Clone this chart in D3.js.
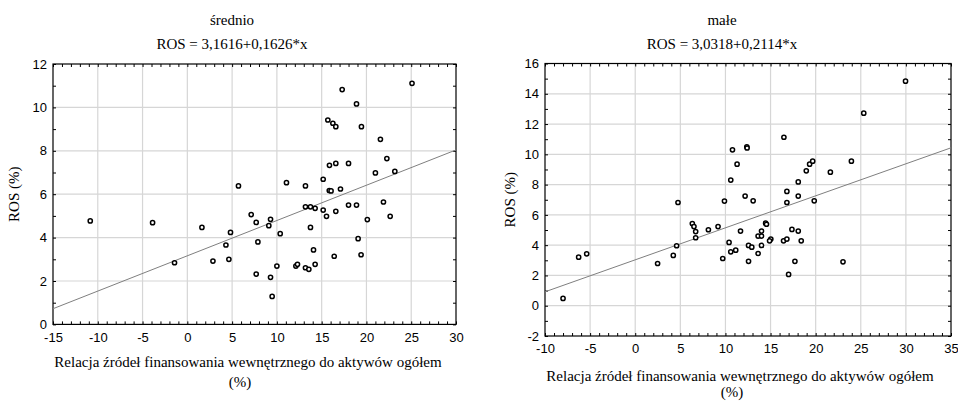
<!DOCTYPE html>
<html>
<head>
<meta charset="utf-8">
<script src="https://cdn.jsdelivr.net/npm/d3@7"></script>
<style>
  body { margin: 0; background: #fff; }
  svg { display: block; }
  .num text { font-family: "Liberation Sans", Arial, sans-serif; font-size: 13px; fill: #000; }
  text.serif { font-family: "Liberation Serif", "Times New Roman", Tinos, "DejaVu Serif", serif; font-size: 15px; fill: #000; }
</style>
</head>
<body>
<svg id="vis" width="958" height="402"></svg>
<script>
// left panel: "średnio"
const sredX = [-10.84, -3.88, -1.43, 1.63, 2.86, 4.31, 4.82, 4.64, 5.71, 7.13, 7.69, 7.88, 7.69, 9.1, 9.29,
  10.37, 10.0, 9.29, 9.47, 11.07, 12.12, 12.3, 13.19, 13.57, 14.27, 14.09, 13.75, 13.19, 13.75, 14.27,
  15.17, 15.54, 16.58, 18.0, 18.89, 21.9, 22.65, 20.1, 19.07, 19.4, 16.4, 13.19, 15.17, 15.85, 16.05,
  17.1, 15.87, 16.58, 18.0, 21.0, 23.17, 22.28, 21.56, 15.69, 16.25, 16.58, 19.44, 18.89, 17.29, 25.09];
const sredY = [4.77, 4.69, 2.84, 4.47, 2.92, 3.66, 4.24, 3.0, 6.38, 5.06, 4.7, 3.8, 2.32, 4.55, 4.84,
  4.18, 2.69, 2.17, 1.29, 6.53, 2.69, 2.77, 2.61, 2.54, 2.77, 3.43, 4.47, 5.42, 5.42, 5.35,
  5.27, 4.98, 5.21, 5.5, 5.5, 5.64, 4.98, 4.83, 3.95, 3.21, 3.14, 6.38, 6.69, 6.17, 6.15,
  6.24, 7.33, 7.42, 7.42, 6.98, 7.05, 7.64, 8.53, 9.42, 9.27, 9.11, 9.11, 10.16, 10.82, 11.11];

// right panel: "małe"
const maleX = [-8.0, -6.27, -5.38, 2.48, 4.22, 4.59, 4.74, 6.33, 6.51, 6.7, 6.7, 8.11, 9.18, 9.89, 9.7,
  10.4, 10.59, 11.14, 10.59, 10.78, 11.29, 12.37, 12.4, 12.18, 13.07, 11.67, 12.56, 12.92, 12.56, 13.62,
  14.0, 14.0, 14.0, 13.62, 14.45, 14.55, 15.03, 14.89, 16.44, 16.81, 16.48, 16.81, 16.81, 17.37, 18.07,
  18.4, 17.7, 17.0, 18.07, 18.07, 18.96, 19.33, 19.67, 19.84, 21.63, 23.96, 23.03, 25.33, 29.96];
const maleY = [0.48, 3.21, 3.43, 2.79, 3.32, 3.96, 6.82, 5.43, 5.23, 4.9, 4.49, 5.02, 5.23, 6.91, 3.12,
  4.18, 3.56, 3.67, 8.3, 10.3, 9.35, 10.5, 10.42, 7.24, 6.93, 4.93, 3.98, 3.87, 2.93, 4.6,
  4.6, 4.93, 3.98, 3.45, 5.45, 5.38, 4.4, 4.29, 4.29, 4.4, 11.13, 7.55, 6.82, 5.04, 4.93,
  4.29, 2.93, 2.07, 8.18, 7.24, 8.91, 9.35, 9.55, 6.93, 8.82, 9.55, 2.9, 12.72, 14.83];

const sredXTicks = [-15, -10, -5, 0, 5, 10, 15, 20, 25, 30];
const sredYTicks = [0, 2, 4, 6, 8, 10, 12];
const maleXTicks = [-10, -5, 0, 5, 10, 15, 20, 25, 30, 35];
const maleYTicks = [-2, 0, 2, 4, 6, 8, 10, 12, 14, 16];

const sredFit = [3.1616, 0.1626];
const maleFit = [3.0318, 0.2114];

const xTitle = "Relacja źródeł finansowania wewnętrznego do aktywów ogółem";
const yTitle = "ROS (%)";

const svg = d3.select("svg#vis");

const fmt = d => d3.format("d")(d).replace("−", "-");

function label(x, y, txt) {
  return svg.append("text").attr("class", "serif")
    .attr("font-family", "'Liberation Serif', 'Times New Roman', serif")
    .attr("x", x).attr("y", y).attr("text-anchor", "middle").text(txt);
}

function drawPanel(p) {
  const w = p.right - p.left, h = p.bottom - p.top;
  const x = d3.scaleLinear().domain(d3.extent(p.xTicks)).range([0, w]);
  const y = d3.scaleLinear().domain(d3.extent(p.yTicks)).range([h, 0]);
  const g = svg.append("g").attr("transform", `translate(${p.left},${p.top})`);

  // titles
  label(p.titleX, 25, p.name);
  label(p.titleX, 49, p.eq);

  // gridlines at major ticks
  g.append("g").selectAll("line.gx").data(p.xTicks.slice(1, -1)).enter().append("line")
    .attr("x1", d => x(d)).attr("x2", d => x(d)).attr("y1", 0).attr("y2", h)
    .attr("stroke", "#d6d6d6").attr("stroke-width", 1.2);
  g.append("g").selectAll("line.gy").data(p.yTicks.slice(1, -1)).enter().append("line")
    .attr("y1", d => y(d)).attr("y2", d => y(d)).attr("x1", 0).attr("x2", w)
    .attr("stroke", "#d6d6d6").attr("stroke-width", 1.2);

  // minor ticks, inward, on all four sides
  const xMinor = d3.range(x.domain()[0], x.domain()[1] + 1);
  const yMinor = d3.range(y.domain()[0], y.domain()[1] + 1);
  const tickAxes = [
    g.append("g").attr("transform", `translate(0,${h})`).call(d3.axisTop(x).tickValues(xMinor).tickSize(3).tickFormat("")),
    g.append("g").call(d3.axisBottom(x).tickValues(xMinor).tickSize(3).tickFormat("")),
    g.append("g").call(d3.axisRight(y).tickValues(yMinor).tickSize(3).tickFormat("")),
    g.append("g").attr("transform", `translate(${w},0)`).call(d3.axisLeft(y).tickValues(yMinor).tickSize(3).tickFormat(""))
  ];
  tickAxes.forEach(a => { a.select(".domain").remove(); a.selectAll("line").attr("stroke", "#000"); });

  // frame
  g.append("rect").attr("width", w).attr("height", h)
    .attr("fill", "none").attr("stroke", "#000").attr("stroke-width", 1.2);

  // tick labels
  const xa = g.append("g").attr("class", "num").attr("transform", `translate(0,${h})`)
    .call(d3.axisBottom(x).tickValues(p.xTicks).tickSize(0).tickPadding(8).tickFormat(fmt));
  const ya = g.append("g").attr("class", "num")
    .call(d3.axisLeft(y).tickValues(p.yTicks).tickSize(0).tickPadding(6).tickFormat(fmt));
  [xa, ya].forEach(a => { a.select(".domain").remove(); a.attr("font-family", null).attr("font-size", null); });

  // regression line
  const line = d3.line().x(d => x(d)).y(d => y(p.fit[0] + p.fit[1] * d));
  g.append("path").datum(x.domain()).attr("d", line)
    .attr("fill", "none").attr("stroke", "#7f7f7f").attr("stroke-width", 1);

  // points
  g.append("g").selectAll("circle").data(p.xs).enter().append("circle")
    .attr("cx", d => x(d)).attr("cy", (d, i) => y(p.ys[i])).attr("r", 2.1)
    .attr("fill", "#fff").attr("stroke", "#000").attr("stroke-width", 1.5);

  // axis titles
  label(p.xTitleX, p.xTitleY, xTitle);
  label(p.xTitleX - 8, p.pctY, "(%)");
  label(0, 0, yTitle)
    .attr("transform", `translate(${p.yTitleX},${(p.top + p.bottom) / 2}) rotate(-90)`);
}

drawPanel({
  name: "średnio", eq: "ROS = 3,1616+0,1626*x", titleX: 232,
  left: 53, right: 456, top: 64, bottom: 324.4,
  xTicks: sredXTicks, yTicks: sredYTicks, fit: sredFit, xs: sredX, ys: sredY,
  xTitleX: 248, xTitleY: 367, pctY: 387, yTitleX: 19
});

drawPanel({
  name: "małe", eq: "ROS = 3,0318+0,2114*x", titleX: 722,
  left: 545, right: 951, top: 63.5, bottom: 336,
  xTicks: maleXTicks, yTicks: maleYTicks, fit: maleFit, xs: maleX, ys: maleY,
  xTitleX: 740, xTitleY: 381, pctY: 397, yTitleX: 515
});
</script>
</body>
</html>
